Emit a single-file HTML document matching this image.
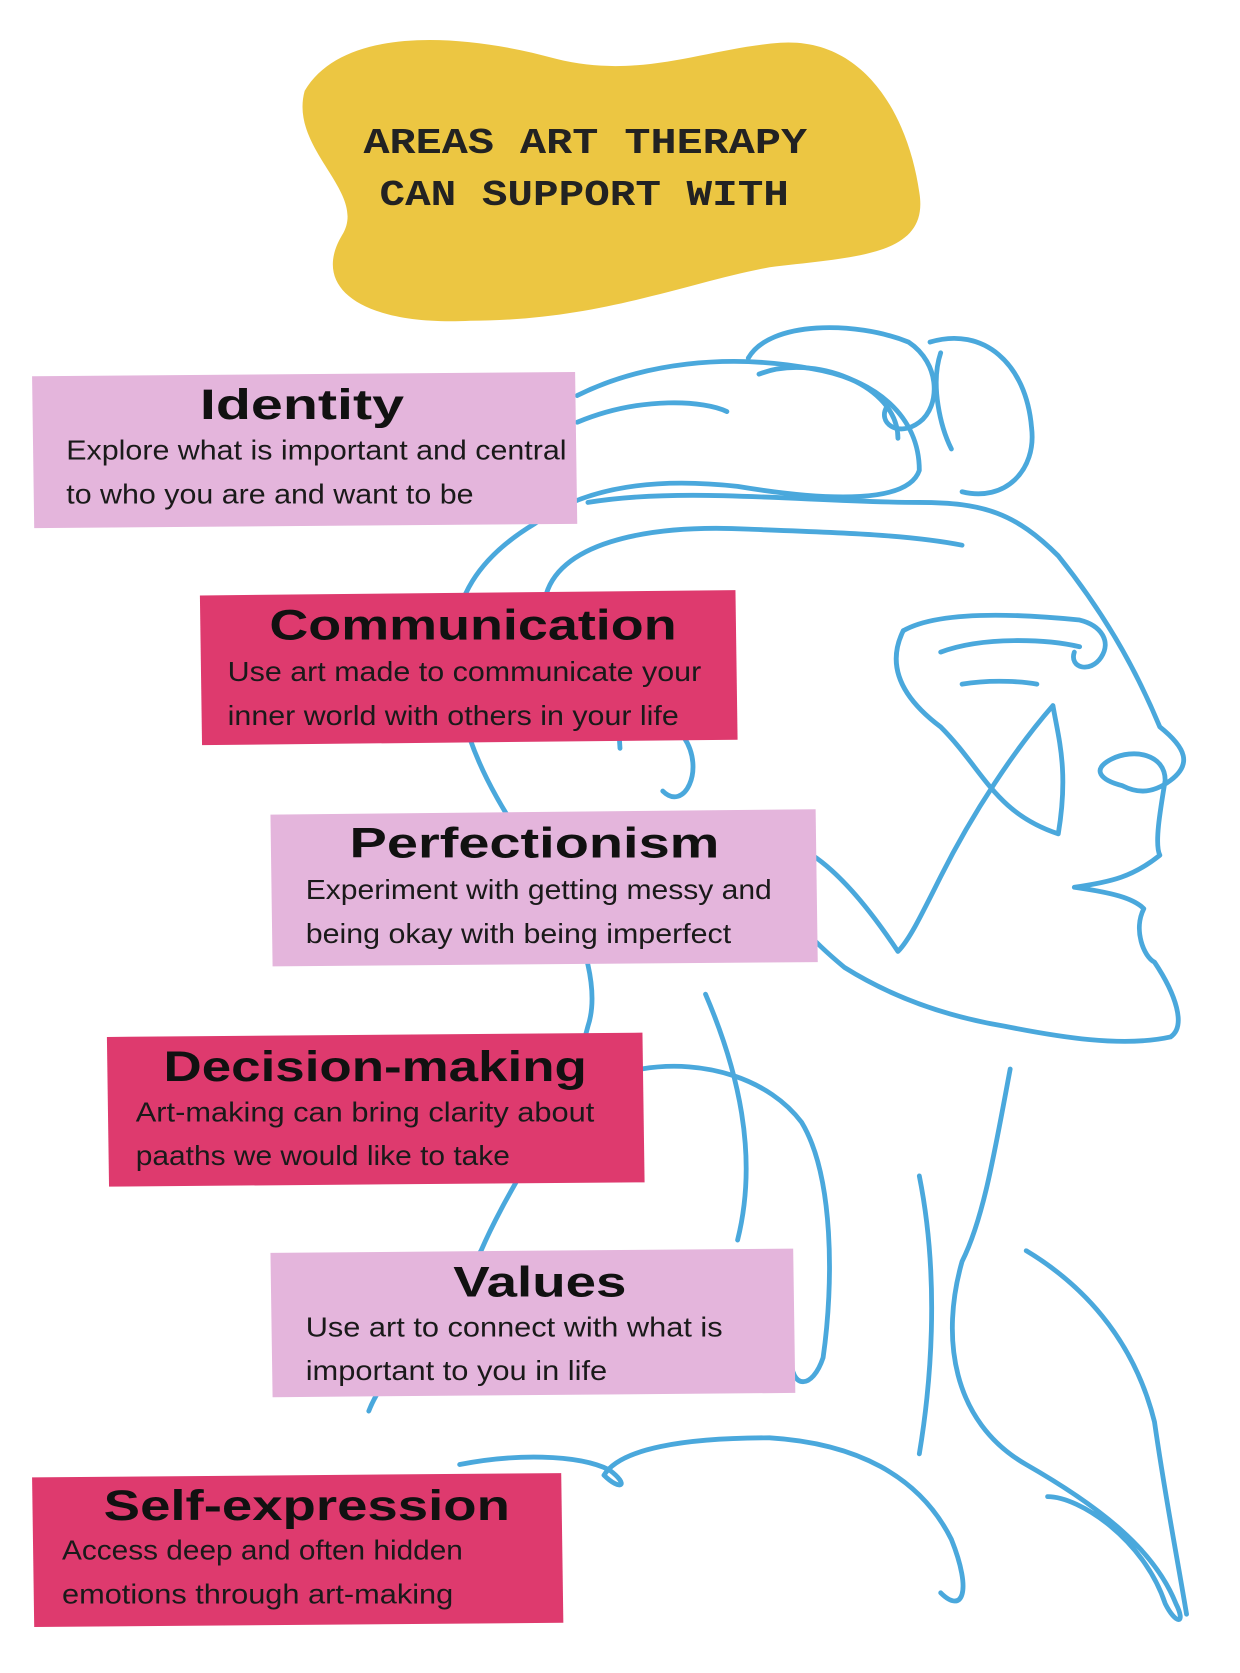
<!DOCTYPE html>
<html><head><meta charset="utf-8"><style>
html,body{margin:0;padding:0;background:#fff}
svg{display:block}
.h{font-family:"Liberation Sans",sans-serif;font-weight:bold;fill:#111;text-anchor:start}
.b{font-family:"Liberation Sans",sans-serif;fill:#1a1a1a;font-size:26px}
.t{font-family:"Liberation Mono",monospace;fill:#222;font-size:34px;font-weight:bold}
</style></head><body>
<svg width="1240" height="1673" viewBox="0 0 1160 1565" preserveAspectRatio="none" xmlns="http://www.w3.org/2000/svg">
<rect width="1160" height="1565" fill="#fff"/>
<path d="M285,85 C320,25 430,30 520,55 C600,75 660,45 730,40 C810,35 850,110 860,180 C870,240 800,240 720,250 C640,265 560,300 440,300 C340,305 290,270 320,220 C345,180 270,140 285,85 Z" fill="#ecc642"/>
<text class="t" x="340" y="143" textLength="415" lengthAdjust="spacingAndGlyphs">AREAS ART THERAPY</text>
<text class="t" x="355" y="192" textLength="383" lengthAdjust="spacingAndGlyphs">CAN SUPPORT WITH</text>
<g fill="none" stroke="#4aa8dc" stroke-width="4.5" stroke-linecap="round" stroke-linejoin="round">
<path d="M540,370 C600,340 680,330 760,345 C820,355 860,390 860,440 C850,470 780,470 690,455 C600,445 540,460 500,490 C450,520 420,560 425,620 C430,700 470,760 520,830 C550,880 560,930 550,960 C530,1040 480,1100 450,1170 C410,1240 360,1280 345,1320"/>
<path d="M540,395 C600,370 660,375 680,385"/>
<path d="M700,335 C720,300 800,300 850,320 C880,340 880,380 860,395 C840,410 820,395 830,380"/>
<path d="M710,350 C760,330 840,360 840,410"/>
<path d="M870,320 C920,305 960,340 965,400 C970,440 940,470 900,460"/>
<path d="M880,330 C870,360 880,400 890,420"/>
<path d="M550,470 C640,455 760,470 860,470 C920,470 950,480 990,520 C1030,570 1060,620 1085,680 C1110,700 1115,715 1095,730 C1075,745 1060,740 1050,735 C1030,730 1020,720 1040,710 C1060,700 1090,705 1090,730 C1085,760 1080,790 1085,800 C1060,820 1040,825 1005,830 C1040,835 1060,840 1070,850 C1060,870 1070,895 1080,900 C1100,930 1110,960 1095,970 C1050,980 990,970 940,960 C880,950 830,930 790,905 C760,880 740,860 730,830"/>
<path d="M510,560 C520,510 600,490 700,495 C780,498 850,500 900,510"/>
<path d="M845,590 C880,570 960,575 1010,580 C1030,585 1040,600 1030,615 C1020,630 1000,625 1005,610"/>
<path d="M880,610 C920,595 980,598 1010,605"/>
<path d="M845,590 C830,620 840,650 880,680 C920,720 930,760 990,780 C1000,720 990,690 985,660 C950,700 910,760 880,820 C860,860 850,880 840,890 C820,860 790,820 760,800"/>
<path d="M900,640 C930,635 960,638 970,640"/>
<path d="M580,700 C575,640 600,620 640,690 C660,720 640,760 620,740"/>
<path d="M660,930 C690,1000 710,1080 690,1160"/>
<path d="M600,1000 C660,990 720,1010 750,1050 C780,1100 780,1200 770,1270 C760,1300 740,1300 740,1270"/>
<path d="M945,1000 C930,1080 920,1140 900,1180 C880,1250 890,1330 960,1370 C1030,1410 1080,1450 1100,1500 C1110,1520 1100,1520 1090,1500 C1070,1440 1010,1400 980,1400"/>
<path d="M960,1170 C1010,1200 1060,1250 1080,1330 C1090,1400 1100,1450 1110,1510"/>
<path d="M430,1370 C480,1360 540,1360 570,1375 C590,1390 580,1395 565,1380 C580,1355 640,1345 720,1345 C800,1350 860,1380 890,1440 C910,1490 900,1510 880,1490"/>
<path d="M860,1100 C880,1200 870,1300 860,1360"/>
</g>
<path d="M30,352 L538,348 L540,490 L32,494 Z" fill="#e4b5dc"/>
<text class="h" x="187" y="392" font-size="40" textLength="191" lengthAdjust="spacingAndGlyphs">Identity</text>
<text class="b" x="62" y="430" textLength="468" lengthAdjust="spacingAndGlyphs">Explore what is important and central</text>
<text class="b" x="62" y="471" textLength="381" lengthAdjust="spacingAndGlyphs">to who you are and want to be</text>

<path d="M187,557 L688,552 L690,692 L189,697 Z" fill="#de3a6e"/>
<text class="h" x="252" y="598" font-size="40" textLength="381" lengthAdjust="spacingAndGlyphs">Communication</text>
<text class="b" x="213" y="637" textLength="443" lengthAdjust="spacingAndGlyphs">Use art made to communicate your</text>
<text class="b" x="213" y="678" textLength="422" lengthAdjust="spacingAndGlyphs">inner world with others in your life</text>

<path d="M253,762 L763,757 L765,900 L255,904 Z" fill="#e4b5dc"/>
<text class="h" x="327" y="802" font-size="40" textLength="346" lengthAdjust="spacingAndGlyphs">Perfectionism</text>
<text class="b" x="286" y="841" textLength="436" lengthAdjust="spacingAndGlyphs">Experiment with getting messy and</text>
<text class="b" x="286" y="882" textLength="398" lengthAdjust="spacingAndGlyphs">being okay with being imperfect</text>

<path d="M100,970 L601,966 L603,1106 L102,1110 Z" fill="#de3a6e"/>
<text class="h" x="153" y="1011" font-size="40" textLength="396" lengthAdjust="spacingAndGlyphs">Decision-making</text>
<text class="b" x="127" y="1049" textLength="429" lengthAdjust="spacingAndGlyphs">Art-making can bring clarity about</text>
<text class="b" x="127" y="1090" textLength="350" lengthAdjust="spacingAndGlyphs">paaths we would like to take</text>

<path d="M253,1172 L742,1168 L744,1303 L255,1307 Z" fill="#e4b5dc"/>
<text class="h" x="424" y="1213" font-size="40" textLength="162" lengthAdjust="spacingAndGlyphs">Values</text>
<text class="b" x="286" y="1250" textLength="390" lengthAdjust="spacingAndGlyphs">Use art to connect with what is</text>
<text class="b" x="286" y="1291" textLength="282" lengthAdjust="spacingAndGlyphs">important to you in life</text>

<path d="M30,1382 L525,1378 L527,1518 L32,1522 Z" fill="#de3a6e"/>
<text class="h" x="97" y="1422" font-size="40" textLength="380" lengthAdjust="spacingAndGlyphs">Self-expression</text>
<text class="b" x="58" y="1459" textLength="375" lengthAdjust="spacingAndGlyphs">Access deep and often hidden</text>
<text class="b" x="58" y="1500" textLength="366" lengthAdjust="spacingAndGlyphs">emotions through art-making</text>
</svg>
</body></html>
